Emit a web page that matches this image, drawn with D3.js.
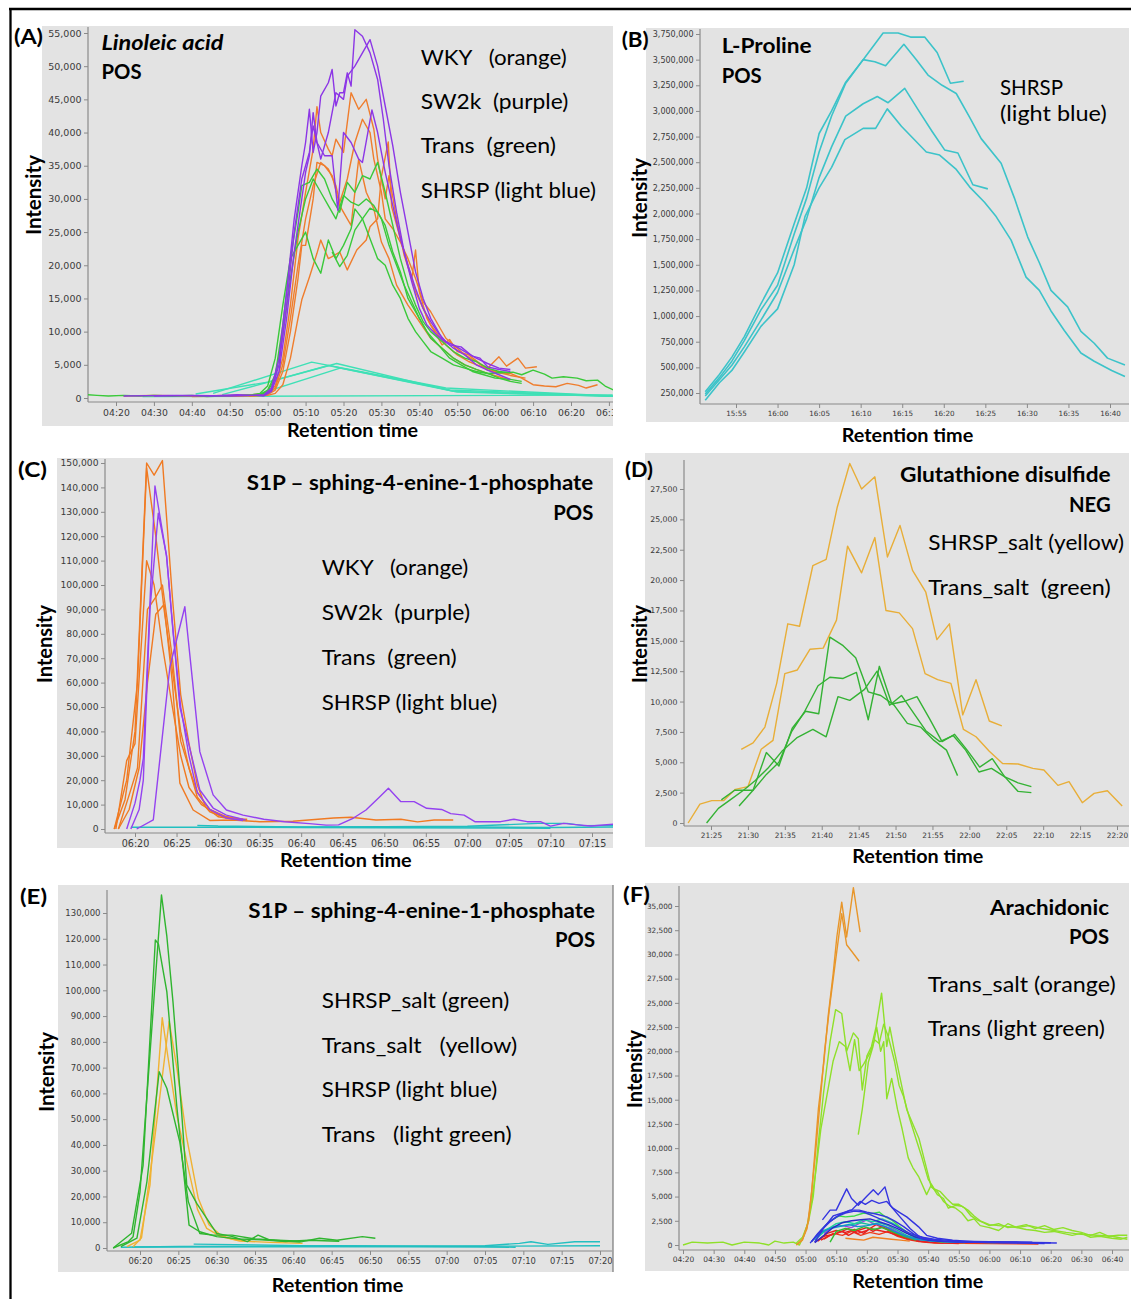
<!DOCTYPE html>
<html><head><meta charset="utf-8">
<script src="https://cdn.jsdelivr.net/npm/d3@7"></script>
<style>body{margin:0;background:#fff}svg{display:block}text{white-space:pre}</style>
</head><body>
<script>
// ================= DATA (time in seconds, intensity) =================
// ---- Panel A : Linoleic acid POS ----
const A_xTicks = [260,270,280,290,300,310,320,330,340,350,360,370,380,390];
const A_yTicks = [0,5000,10000,15000,20000,25000,30000,35000,40000,45000,50000,55000];
const A_WKY1 = [[262,300],[270,400],[280,300],[290,400],[296,500],[300,700],[302,1800],[304,6000],[306,14000],[308,24000],[310,31000],[312,37500],[313,43900],[314,40000],[316,37500],[317,36500],[318,39000],[320,37000],[322,46000],[324,43500],[326,45000],[328,40500],[329,36000],[331,30000],[332,33500],[334,27000],[336,21500],[338,18000],[339,22300],[340,16000],[342,12000],[344,10000],[346,8000],[348,8800],[350,7000],[353,6500],[356,5200],[358,4500],[361,6200],[363,4800],[366,6000],[368,4500],[371,4700]];
const A_WKY2 = [[280,200],[290,300],[298,400],[300,600],[302,1500],[304,5000],[306,12000],[308,20000],[310,27000],[312,32000],[314,35500],[316,34500],[318,32000],[319,29500],[321,33000],[323,38500],[325,42000],[327,40000],[328,36000],[330,31000],[331,27000],[333,25500],[335,23500],[337,21000],[339,18000],[341,14500],[343,13000],[345,11000],[347,9000],[349,8000],[352,6500],[355,5500],[358,4200],[361,3800],[364,3700],[367,3000],[370,2000],[373,1800],[376,1700],[379,2200],[382,1900],[384,1500],[387,2000]];
const A_WKY3 = [[290,300],[298,400],[300,500],[302,1200],[304,4000],[306,10000],[308,18000],[309,23000],[310,23000],[312,30000],[313,35500],[315,35000],[317,33500],[319,29000],[321,27000],[322,26000],[324,36000],[326,31000],[328,28500],[330,23500],[332,21000],[334,17000],[337,14000],[340,11500],[343,9000],[346,7500],[349,6000],[352,5000],[355,4300],[358,3700],[361,3200],[364,2700]];
const A_WKY4 = [[295,300],[300,400],[302,700],[304,2000],[306,6000],[308,12000],[309,14800],[311,18200],[313,21800],[314,23800],[316,21000],[317,21300],[319,22000],[321,19300],[323.5,22300],[326,23800],[327,25800],[329,27000],[330,33400],[331.8,38600],[332.7,28800],[335,24000],[337,20000],[339,16000],[341,13500],[343,11000],[345,9500],[347,8000],[350,6500],[353,5500],[356,4800],[360,4000],[364,3400],[368,3000]];
const A_SW2k1 = [[270,300],[280,400],[290,300],[296,400],[299,500],[301,1500],[303,6000],[305,16000],[307,27000],[309,35000],[310,38500],[311,43500],[312,37000],[313,40000],[314,45500],[316,47500],[317,49500],[318,44000],[319,46000],[320,46000],[321,49000],[322,47000],[323,55500],[325,54500],[327,52000],[329,48000],[330.5,42000],[332,35000],[334,28000],[336,22000],[338,17500],[340,13500],[342,11000],[344,9800],[346,8800],[348,8000],[351,7700],[354,6300],[356,6000],[358,4700],[361,4300],[364,4000]];
const A_SW2k2 = [[299,400],[301,1200],[303,5000],[305,14000],[307,25000],[309,33000],[311,37000],[312,41000],[314,36000],[316,40000],[318,46000],[320,45000],[321,48500],[323,50000],[325,52000],[327,54000],[329,50000],[331,44000],[333,38000],[335,31000],[337,25000],[339,19000],[341,15000],[343,12000],[346,9000],[349,7500],[352,6500],[355,5000],[358,4200],[361,3500],[364,2800]];
const A_SW2k3 = [[262,300],[275,400],[285,300],[292,500],[297,400],[299,300],[301,1000],[303,4000],[305,12000],[307,22000],[309,30000],[310,34000],[311,36500],[312,43000],[313,38500],[315,36500],[317,36500],[318.5,28300],[320,40000],[322,38500],[324,36000],[325,35500],[327.5,43400],[329,40000],[331,34000],[333,29000],[335,24000],[337,20000],[339,16500],[341,13500],[343,11500],[345,9800],[347,8500],[349,8000],[352,7000],[355,6000],[358,5200],[361,4500],[364,4300]];
const A_Trans1 = [[298,500],[300,1200],[302,3500],[304,11000],[306,21000],[308,28000],[309,32000],[311,32500],[313,34500],[315,33000],[317,30000],[319,28000],[321,32500],[323,31000],[325,33500],[327,33000],[329,35500],[331,31000],[333,26000],[335,21000],[337,17000],[339,14000],[341,11500],[343,10000],[346,8500],[349,7000],[352,6000],[355,5500],[358,4500],[361,4000],[364,3800]];
const A_Trans2 = [[298,400],[300,1000],[302,3000],[304,9500],[306,18000],[308,25000],[310,30000],[312,33000],[314,31000],[316,29000],[318,27000],[320,30500],[322,29500],[324,29000],[326,30000],[328,29000],[330,27000],[332,23000],[334,20000],[336,17000],[338,14500],[340,12000],[342,10000],[345,8000],[348,6000],[351,5000],[354,4000],[357,3500],[360,3000],[364,2800],[367,2500]];
const A_Trans3 = [[252,500],[255,400],[258,300],[262,400],[266,300],[270,400],[275,300],[280,400],[284,200],[288,300],[292,400],[296,500],[298,700],[300,1800],[302,6000],[304,14000],[306,21000],[308,23000],[310,25000],[312,21000],[314,18800],[316,23800],[318,21000],[320,23000],[322,25500],[323,28500],[325,27000],[327,24000],[329,21000],[331,20000],[333,17000],[335,15000],[337,12000],[339,10000],[341,8500],[343,7000],[346,6000],[349,5000],[352,4500],[355,4000],[358,3700],[361,3800],[364.7,3900],[367,3500],[370,4200],[373,3600],[375,3000],[378,3200],[381.6,3000],[384,2600],[387,2700],[389,1800],[392,1000]];
const A_Trans4 = [[317,22000],[319,19800],[321,21500],[323,25300],[325,27000],[327,28600],[329,28000],[331,26000],[333,22000],[335,19000],[337,15000],[339,13000],[341,11000],[343,9000],[346,7500],[349,6000],[352,5000],[355,4300],[358,3700],[361,3000],[364,2500],[367,2200]];
const A_SHRSP1 = [[285.6,700],[311.6,5400],[347,1500],[391,300]];
const A_SHRSP2 = [[288,500],[318.2,5200],[349,1000],[391,250]];
const A_SHRSP3 = [[296,300],[319.1,4500],[350,900],[391,250]];
const A_SHRSP4 = [[281,600],[300,2400],[316,4900],[348,1200],[391,300]];
const A_SHRSP5 = [[267,200],[391,450]];

// ---- Panel B : L-Proline POS ----
const B_xTicks = [955,960,965,970,975,980,985,990,995,1000];
const B_yTicks = [250000,500000,750000,1000000,1250000,1500000,1750000,2000000,2250000,2500000,2750000,3000000,3250000,3500000,3750000];
const B_SHRSP1 = [[951.3,263000],[953,430000],[954.5,600000],[956,800000],[958,1120000],[960,1420000],[962,1900000],[963.5,2250000],[965,2780000],[966.5,3000000],[968.2,3280000],[970.3,3500000],[972.7,3760000],[974.5,3760000],[976,3720000],[977.7,3720000],[979.2,3570000],[980.8,3270000],[982.4,3290000]];
const B_SHRSP2 = [[951.3,240000],[953,400000],[954.5,560000],[956,760000],[958,1060000],[960,1300000],[962,1800000],[963.5,2150000],[965,2600000],[966.5,2950000],[968.2,3270000],[970.3,3500000],[971.7,3480000],[973,3440000],[975.2,3650000],[976.7,3500000],[978.1,3350000],[979.8,3250000],[981.5,3170000],[983.1,2940000],[984.5,2730000],[986.9,2490000],[988.5,2150000],[990.1,1770000],[991.5,1520000],[992.9,1250000],[994.9,1090000],[996.5,850000],[998.1,735000],[999.7,590000],[1001.8,523000]];
const B_SHRSP3 = [[951.3,220000],[953,380000],[954.5,520000],[956,700000],[958,960000],[960,1230000],[962,1650000],[963.5,1950000],[965,2350000],[966.5,2650000],[968.2,2950000],[970.3,3070000],[972,3140000],[973.3,3080000],[975.3,3220000],[977,3000000],[978.6,2800000],[980.1,2620000],[981.7,2590000],[983.5,2280000],[985.3,2240000]];
const B_SHRSP4 = [[951.3,180000],[953,350000],[954.5,470000],[956,650000],[958,900000],[960,1070000],[962,1500000],[963.3,1970000],[965,2250000],[966.5,2450000],[968.1,2720000],[970.3,2830000],[971.8,2830000],[973.2,3020000],[974.9,2850000],[977.9,2600000],[979.5,2570000],[981.5,2430000],[983.1,2260000],[984.9,2110000],[986.3,1970000],[988.1,1740000],[989.9,1380000],[991.5,1250000],[992.9,1050000],[994.5,860000],[996.5,640000],[998.1,560000],[1000.2,470000],[1001.8,410000]];

// ---- Panel C : S1P POS ----
const C_xTicks = [380,385,390,395,400,405,410,415,420,425,430,435];
const C_yTicks = [0,10000,20000,30000,40000,50000,60000,70000,80000,90000,100000,110000,120000,130000,140000,150000];
const C_WKY1 = [[377.5,0],[378.8,12000],[380,40000],[381.4,150000],[382.3,145000],[383.3,151000],[384.5,95000],[385.5,55000],[386.5,35000],[387.5,18000],[388.5,9000],[390,5000],[392,4000],[393.5,3500]];
const C_WKY2 = [[377.5,0],[379,20000],[380.3,60000],[381.4,148000],[382.5,120000],[383.5,90000],[384.5,65000],[385.5,40000],[386.5,25000],[387.5,15000],[389,8000],[391,5000],[393,4000]];
const C_WKY3 = [[377.7,0],[379,28000],[380,35000],[381.4,110000],[382.3,100000],[383.3,75000],[384.5,50000],[385.5,30000],[386.5,17000],[388,10000],[390,6000],[392,4000],[393.5,4000]];
const C_WKY4 = [[378,0],[379.3,14000],[380.3,25000],[381.5,90000],[382.5,95000],[383.3,100000],[384.5,70000],[385.5,36000],[386.5,25000],[387.5,13000],[389,7000],[391,4500]];
const C_WKY5 = [[378,0],[379.3,8000],[380.5,25000],[381.5,60000],[382.5,88000],[383.5,92000],[384.5,60000],[385.4,18800],[387,7800],[389,3500],[391.8,3700],[395,3000],[399,3200],[403.9,4500],[406,4800],[409,3700],[412,4000],[414,2900],[416,3700],[418.3,3700]];
const C_SW2k1 = [[379,0],[380,10600],[380.6,20000],[381,29000],[382.4,140600],[383.8,111600],[385.4,50000],[387.8,16000],[389.4,8600],[391,5700],[393.3,3700]];
const C_SW2k2 = [[379.5,0],[380.5,8000],[381,20000],[381.8,90000],[382.8,129400],[383.8,112000],[384.6,80000],[385.5,50000],[386.5,30000],[387.5,15000],[389,8000],[391,4500],[393,3500]];
const C_SW2k3 = [[380.2,0],[382.2,3700],[384.2,66500],[386,91100],[387.8,31700],[389.4,14000],[391,7800],[393,5700],[395.5,4000],[398,3000],[401,2200],[403,1600],[404.5,1700],[406.3,4500],[407.8,7800],[409.4,13000],[410.5,16700],[412,11200],[413.6,11200],[415.1,8500],[416.9,8000],[418,6300],[419.6,5700],[420.9,3000],[424,3000],[425.6,4000],[427.2,3000],[428.8,3000],[430,1200],[431.6,2300],[433.3,1700],[434.9,1200],[437.7,2000]];
const C_SHRSP1 = [[379.5,700],[390,700],[400,600],[410,700],[420,800],[430,600],[437.7,800]];
const C_SHRSP2 = [[387.5,1500],[390,1200],[400,800],[410,900],[420,1100],[428.5,2300],[432,2300],[434,1400],[437.7,1500]];
const C_SHRSP3 = [[390,900],[410,500],[430,300]];

// ---- Panel D : Glutathione disulfide NEG ----
const D_xTicks = [1285,1290,1295,1300,1305,1310,1315,1320,1325,1330,1335,1340];
const D_yTicks = [0,2500,5000,7500,10000,12500,15000,17500,20000,22500,25000,27500];
const D_SHRSPsalt1 = [[1289.1,6070],[1290.7,6600],[1292.3,7900],[1293.9,11500],[1295.4,16400],[1297,16200],[1298.8,21200],[1300.6,21700],[1302.1,26000],[1303.8,29600],[1305.4,27500],[1307.2,28500],[1308.9,21900],[1310.6,24500],[1312.3,20800],[1314.1,19000],[1315.6,15100],[1317.3,16400],[1319.1,8900],[1320.9,11800],[1322.7,8400],[1324.4,8000]];
const D_SHRSPsalt2 = [[1281.9,0],[1283.5,1560],[1285.1,1840],[1286.7,1840],[1288.3,2770],[1290,2990],[1291.8,6070],[1293.4,6800],[1295,12300],[1296.7,12600],[1298.4,14300],[1300.2,14400],[1302,16700],[1303.5,22800],[1305.4,20600],[1307.2,23500],[1308.7,17500],[1310.5,17300],[1312.3,16000],[1314,12300],[1315.7,11800],[1317.5,11500],[1319.2,7700],[1320.9,7100],[1322.7,5900],[1324.5,4900],[1326.6,4860],[1328.6,4500],[1330.1,4360],[1332,3100],[1333.5,3400],[1335.3,1670],[1336.9,2440],[1338.7,2660],[1340.7,1400]];
const D_TransSalt1 = [[1286.4,1900],[1288.2,2700],[1290.7,2700],[1292.5,5800],[1294.2,4700],[1296,7800],[1297.8,9200],[1299.6,9000],[1301.1,15300],[1302.9,14600],[1304.6,13600],[1306.3,10800],[1308,10500],[1309.8,9700],[1311.6,8200],[1313.4,7900],[1315.2,6800],[1316.9,6000],[1318.4,3900]];
const D_TransSalt2 = [[1284.4,0],[1286,1200],[1287.6,1900],[1289.4,2700],[1291,3500],[1292.7,4500],[1294.6,5900],[1296.6,7000],[1298.8,7700],[1300.6,7100],[1302.2,10400],[1303.8,10100],[1305.8,11000],[1307.5,12500],[1309.2,9700],[1310.8,10500],[1312.5,9000],[1314.1,7600],[1316,6700],[1317.8,7200],[1319.5,6000],[1321.3,4200],[1323,4500],[1324.8,3800],[1326.6,2600],[1328.4,2500]];
const D_TransSalt3 = [[1288.8,1400],[1290.7,2700],[1292.5,4000],[1294.2,5000],[1295.9,7500],[1297.7,9200],[1299.5,11300],[1301.1,12000],[1302.9,11900],[1304.7,12400],[1306.3,8500],[1307.8,12900],[1309.5,9800],[1311.1,10000],[1312.9,10400],[1314.6,8600],[1316.3,6700],[1318,7300],[1319.7,6000],[1321.4,4600],[1323.1,5300],[1324.8,3800],[1326.6,3300],[1328.4,3000]];

// ---- Panel E : S1P POS ----
const E_xTicks = [380,385,390,395,400,405,410,415,420,425,430,435,440];
const E_yTicks = [0,10000,20000,30000,40000,50000,60000,70000,80000,90000,100000,110000,120000,130000];
const E_SHRSPsalt1 = [[376.5,0],[378.5,2500],[379.1,4400],[380,21800],[382.8,137000],[383.5,121000],[384.3,95600],[385.4,54000],[386.1,24400],[387.4,17300],[388.7,11500],[390,5700],[392.1,4400],[394,2500],[395.4,5000],[396.9,3100],[400.8,2300],[403.4,3800],[405.7,3000],[409,4400],[410.7,3800]];
const E_SHRSPsalt2 = [[376.5,0],[378.9,5700],[380.4,32000],[382,119500],[382.4,118000],[383.5,99500],[384.8,55000],[386.4,8900],[387.8,6300],[390,4400],[393,3500],[396,3200],[399,2500],[402,3000],[406,2600]];
const E_SHRSPsalt3 = [[377.5,500],[379.6,3800],[380.9,25700],[382.5,68400],[383.5,62000],[385.2,41000],[386.3,18000],[387.8,5600],[389.5,5000],[392,5000],[395,3500],[398,3000],[401,2600]];
const E_TransSalt1 = [[378.3,500],[380,3100],[381.3,24400],[382.9,89400],[383.6,75000],[384.8,51600],[386.1,33500],[387.5,15000],[388.7,7600],[390.5,4500],[393,2700],[397,2200],[401.2,1800]];
const E_TransSalt2 = [[379.1,500],[380.2,4000],[381.7,37400],[383.8,88000],[384.8,70000],[386.1,42600],[387.6,19300],[389,9000],[390.5,5000],[392,3500],[393.5,2800]];
const E_SHRSP1 = [[377.5,300],[385,600],[395,700],[405,900],[415,800],[425,900],[429.5,1800],[431,2400],[433.2,1400],[436.7,2400],[440,2400]];
const E_SHRSP2 = [[387,1500],[395,1200],[405,700],[415,600],[425,400],[429,300]];
const E_SHRSP3 = [[379,400],[400,500],[420,600],[440,900]];

// ---- Panel F : Arachidonic POS ----
const F_xTicks = [260,270,280,290,300,310,320,330,340,350,360,370,380,390,400];
const F_yTicks = [0,2500,5000,7500,10000,12500,15000,17500,20000,22500,25000,27500,30000,32500,35000];
const F_TransSalt1 = [[297,0],[299,600],[300.5,1700],[302,5500],[304.2,14100],[306,19000],[307.4,23700],[309,28000],[310.2,31800],[311.8,35400],[313.4,31800],[315.6,36900],[317.8,32300]];
const F_TransSalt2 = [[297,0],[299,500],[301,2500],[303.1,9000],[304.8,15000],[306.3,20300],[308,25000],[309.6,28900],[311.8,34200],[313.4,31000],[315.1,30300],[317.5,29300]];
const F_Trans1 = [[260,0],[263,300],[268,200],[273,300],[276,0],[280,300],[285,200],[288,0],[290,400],[293,200],[296,300],[298,0],[299.5,1000],[301,2500],[302.5,5000],[304.2,10700],[305.9,15800],[308,21000],[309.8,24300],[311.8,23900],[313.4,20000],[315.6,21900],[317.2,21300],[318.5,16000],[320,19500],[321.5,20500],[323,22500],[324.8,26000],[326.5,20500],[327.5,22500],[329,20000],[331,17000],[333,14000],[335,12500],[337,11000],[339,8500],[341,6000],[343,5500],[345,4500],[347,4000],[349,3800],[351,3300],[353,2500],[355,2700],[357,2000],[360,1800],[363,1500],[366,2200],[369,1800],[372,1600],[375,1500],[378,1300],[381,1400],[384,1200],[387,1000],[390,1200],[393,800],[396,900],[400,700],[403,600],[405,800]];
const F_Trans2 = [[297,200],[299,800],[300.5,2000],[302,4500],[303.5,8000],[305,12000],[307,15500],[309,19000],[311,21000],[313,20500],[314.5,18000],[316,21200],[317.5,18000],[319,18700],[321,19800],[322.5,21200],[324,20800],[325.5,22800],[327,21500],[329,19000],[330.5,16500],[332,15300],[334,13000],[336,11000],[338,9000],[340,6800],[342,5800],[344,5500],[346,4800],[348,4200],[350,4200],[352,3800],[354,3000],[356,2600],[358,2300],[360,2000],[363,2200],[366,1800],[369,1900],[372,2100],[375,1700],[378,2000],[381,1600],[384,1800],[387,1500],[390,1300],[393,1000],[396,1300],[399,900],[402,1000],[405,1000]];
const F_Trans3 = [[317.2,11400],[318.5,14000],[320.5,18900],[322,20500],[323.2,22500],[324.5,20000],[325.5,21000],[326.5,15100],[328.1,17200],[330,14000],[331.5,12000],[333.5,9000],[335,8000],[337,7000],[339.5,5200],[341,6200],[343,5200],[345,4800],[346.6,3800],[349,4100],[351,4000],[353,3600],[355,3000],[357,2500],[360,2100],[363,2000],[366,1900],[369,1800],[373,2000],[377,1700],[381,1500],[385,1300],[390,1100],[395,1000],[400,900],[405,600]];
const F_other1 = [[305.5,2600],[308,3600],[310,3600],[313.4,5800],[315,4800],[317.2,4100],[319.9,5000],[322.1,5700],[323.7,5200],[325.9,6000],[327.6,4100],[330.8,2900],[334.1,1700],[337,900],[340,600],[345,400],[350,300],[360,250],[370,200],[378,150]];
const F_other2 = [[303,300],[306,1800],[309,3000],[312,3300],[315,3600],[317.8,4500],[319.5,4200],[321.6,4600],[324,4300],[326.5,4500],[328.5,3800],[331,3300],[333,2900],[336.8,1900],[339.5,1000],[343,700],[348,500],[355,350],[365,300],[380,250]];
const F_other3 = [[302,350],[305,1500],[308,2400],[311,3100],[314.5,3600],[317.5,3600],[320,3400],[323,3200],[326.5,2900],[329,2500],[332,1900],[335,1200],[337.4,700],[341,500],[346,400],[355,300],[370,250],[382,200]];
const F_other4 = [[301.5,200],[304,1200],[307,2200],[310,2900],[313,3300],[316,3500],[319,3400],[322,3000],[325,2600],[328,2200],[331,1700],[334,1200],[338,800],[342,600],[350,400],[360,350],[374,300]];
const F_other5 = [[305,1500],[308,2500],[311,3000],[313,2900],[316,3000],[319,3300],[321,3200],[324,3400],[326,2900],[328,2600],[331,1800],[334,1100],[338,600],[345,300]];
const F_other6 = [[303,500],[306,1500],[309,1900],[312,2000],[315,2100],[318,2300],[321,2100],[324,2300],[327,2000],[330,1500],[333,1000],[337,600],[342,400],[350,300],[362,250]];
const F_other7 = [[306,1200],[309,1900],[312,2000],[315,1800],[318,2300],[320,2600],[322,2200],[325,2000],[328,1700],[331,1200],[334,800],[338,500]];
const F_other8 = [[304,400],[307,1200],[310,1500],[313,1300],[316,1600],[319,1200],[321,1700],[324,1500],[327,1300],[330,1000],[333,700],[337,400],[342,250],[350,150]];
const F_other9 = [[303,300],[306,900],[309,1100],[312,1400],[314,1000],[317,1500],[320,1800],[322,1400],[325,1900],[328,1500],[331,1100],[334,600],[338,350],[345,200]];
const F_other10 = [[305,500],[308,1000],[311,1300],[314,1700],[317,1200],[320,1500],[323,2100],[326,1700],[329,1200],[332,800],[336,500],[340,300]];
const F_other11 = [[306,600],[309,1200],[312,1000],[315,1400],[318,1000],[321,1300],[324,1100],[327,1400],[330,900],[333,600],[337,350],[342,200],[360,150],[376,100]];
const F_other12 = [[313,700],[316,600],[319,500],[322,800],[325,700],[328,600],[331,500],[334,400]];
const F_other13 = [[304,800],[307,1600],[310,2200],[313,2400],[316,2200],[319,2600],[322,2400],[325,2700],[328,2300],[331,1800],[334,1100],[338,600],[343,350],[352,250]];
const F_other14 = [[308,300],[310,1400],[313,1700],[316,1500],[319,1900],[322,1600],[325,1800],[328,1400],[332,900],[336,500]];
const F_other15 = [[302,400],[305,1300],[308,1700],[311,1900],[314,2100],[317,1900],[320,2000],[323,2200],[326,1900],[329,1400],[332,1000],[336,600],[341,400],[350,300],[365,250]];
const F_other16 = [[303,250],[306,1000],[309,1800],[312,2300],[315,2500],[318,2600],[321,2700],[324,2400],[327,2100],[330,1700],[333,1200],[336,800],[340,500],[345,350],[355,300],[370,250],[380,230]];

// ================= STYLES / LAYOUT =================
const COL = {
  orangeA:"#ef7d2d", purple:"#8c36e6", greenA:"#3ac93a", tealA:"#3fe0b6",
  tealB:"#3cc3c9", orangeC:"#f07a22", purpleC:"#9442f0", tealC:"#22bfc0",
  yellow:"#e8ae38", greenD:"#34b234", greenE:"#2fb52f", yellowE:"#f0b232",
  orangeF:"#e8962a", lgreen:"#8fe02a", blue:"#3434e0", blue2:"#2a2ac8", red:"#e82020",
  red2:"#f03a1a", orange2:"#f08020", green3:"#3ddc4c", teal3:"#1abc9c", purple3:"#a040e0",
  cyan3:"#20d0a0", green4:"#30c030", sky:"#1090d0"
};
const mmss = d => String(Math.floor(d/60)).padStart(2,"0")+":"+String(Math.round(d%60)).padStart(2,"0");
const FONT = "Lato, 'Open Sans', sans-serif";
const TICKFONT = "'DejaVu Sans', Verdana, sans-serif";

const panels = [
  {id:"A", bg:[42,26,613,426], left:88, top:27, right:613, axisY:402,
   xRef:[[260,116],[380,571]], yRef:[[0,398],[55000,33]], xTicks:A_xTicks, yTicks:A_yTicks, xFont:9.3, yFont:9.5,
   series:[[A_SHRSP5,"tealA"],[A_SHRSP1,"tealA"],[A_SHRSP2,"tealA"],[A_SHRSP3,"tealA"],[A_SHRSP4,"tealA"],
           [A_WKY4,"orangeA"],[A_WKY3,"orangeA"],[A_WKY2,"orangeA"],[A_WKY1,"orangeA"],
           [A_Trans3,"greenA"],[A_Trans4,"greenA"],[A_Trans2,"greenA"],[A_Trans1,"greenA"],
           [A_SW2k3,"purple"],[A_SW2k2,"purple"],[A_SW2k1,"purple"]]},
  {id:"B", bg:[646,28,1129,422], left:700, top:29, right:1129, axisY:404,
   xRef:[[955,736],[1000,1110]], yRef:[[250000,393],[3750000,34]], xTicks:B_xTicks, yTicks:B_yTicks, xFont:7.2, yFont:8,
   series:[[B_SHRSP1,"tealB"],[B_SHRSP2,"tealB"],[B_SHRSP3,"tealB"],[B_SHRSP4,"tealB"]]},
  {id:"C", bg:[57,458,613,848], left:105, top:459, right:613, axisY:833,
   xRef:[[380,135],[435,592]], yRef:[[0,829],[150000,463]], xTicks:C_xTicks, yTicks:C_yTicks, xFont:9.6, yFont:9.2,
   series:[[C_SHRSP1,"tealC"],[C_SHRSP2,"tealC"],[C_SHRSP3,"tealC"],
           [C_WKY5,"orangeC"],[C_WKY4,"orangeC"],[C_WKY3,"orangeC"],[C_WKY2,"orangeC"],[C_WKY1,"orangeC"],
           [C_SW2k3,"purpleC"],[C_SW2k2,"purpleC"],[C_SW2k1,"purpleC"]]},
  {id:"D", bg:[645,453,1129,847], left:684, top:460, right:1129, axisY:826,
   xRef:[[1285,711],[1340,1117]], yRef:[[0,823],[27500,489]], xTicks:D_xTicks, yTicks:D_yTicks, xFont:7.4, yFont:7.8,
   series:[[D_SHRSPsalt2,"yellow"],[D_SHRSPsalt1,"yellow"],[D_TransSalt1,"greenD"],[D_TransSalt2,"greenD"],[D_TransSalt3,"greenD"]]},
  {id:"E", bg:[58,885,613,1272], left:107, top:890, right:612, axisY:1251,
   xRef:[[380,140],[440,600]], yRef:[[0,1248],[130000,913]], xTicks:E_xTicks, yTicks:E_yTicks, xFont:8.4, yFont:8.5,
   series:[[E_SHRSP3,"tealC"],[E_SHRSP2,"tealC"],[E_SHRSP1,"tealC"],
           [E_TransSalt2,"yellowE"],[E_TransSalt1,"yellowE"],
           [E_SHRSPsalt3,"greenE"],[E_SHRSPsalt2,"greenE"],[E_SHRSPsalt1,"greenE"]]},
  {id:"F", bg:[645,883,1129,1271], left:679, top:886, right:1129, axisY:1250,
   xRef:[[260,683],[400,1112]], yRef:[[0,1245],[35000,906]], xTicks:F_xTicks, yTicks:F_yTicks, xFont:7.5, yFont:7.3,
   series:[[F_Trans1,"lgreen"],[F_Trans2,"lgreen"],[F_Trans3,"lgreen"],
           [F_other12,"orange2"],[F_other11,"red2"],[F_other8,"red"],[F_other9,"red"],[F_other10,"red"],
           [F_other14,"green4"],[F_other7,"purple3"],[F_other6,"teal3"],[F_other13,"cyan3"],[F_other5,"green3"],
           [F_other15,"sky"],[F_other16,"blue2"],[F_other4,"blue"],[F_other3,"blue"],[F_other2,"blue"],[F_other1,"blue"],
           [F_TransSalt2,"orangeF"],[F_TransSalt1,"orangeF"]]}
];

const texts = [
  // A
  {t:"(A)",x:14,y:44,s:21,w:"bold",len:29},
  {t:"Linoleic acid",x:101.5,y:50,s:21.5,w:"bold",st:"italic",len:122},
  {t:"POS",x:101.5,y:78.5,s:21.5,w:"bold",len:40},
  {t:"WKY   (orange)",x:420.7,y:65,s:21.5,len:146},
  {t:"SW2k  (purple)",x:420.7,y:108.5,s:21.5,len:147.6},
  {t:"Trans  (green)",x:420.7,y:153,s:21.5,len:135.3},
  {t:"SHRSP (light blue)",x:420.7,y:198,s:21.5,len:175.3},
  {t:"Intensity",x:40.5,y:195,s:20,w:"bold",len:80,rot:true},
  {t:"Retention time",x:287,y:437,s:19.5,w:"bold",len:131},
  // B
  {t:"(B)",x:621.7,y:46.5,s:21,w:"bold",len:27},
  {t:"L-Proline",x:721.7,y:53.3,s:21.5,w:"bold",len:90},
  {t:"POS",x:721.7,y:82.7,s:21.5,w:"bold",len:40},
  {t:"SHRSP",x:1000,y:95,s:21.5,len:63},
  {t:"(light blue)",x:1000,y:120.5,s:21.5,len:106.7},
  {t:"Intensity",x:646.5,y:198,s:20,w:"bold",len:80,rot:true},
  {t:"Retention time",x:841.7,y:441.5,s:19.5,w:"bold",len:131.6},
  // C
  {t:"(C)",x:18,y:476.7,s:21,w:"bold",len:29},
  {t:"S1P \u2013 sphing-4-enine-1-phosphate",x:593.3,y:490,s:21.5,w:"bold",len:346.6,end:true},
  {t:"POS",x:593.3,y:520,s:21.5,w:"bold",len:40,end:true},
  {t:"WKY   (orange)",x:321.7,y:575,s:21.5,len:146.6},
  {t:"SW2k  (purple)",x:321.7,y:620,s:21.5,len:148.3},
  {t:"Trans  (green)",x:321.7,y:665,s:21.5,len:135},
  {t:"SHRSP (light blue)",x:321.7,y:710,s:21.5,len:175.6},
  {t:"Intensity",x:51.5,y:644,s:20,w:"bold",len:78,rot:true},
  {t:"Retention time",x:280,y:866.7,s:19.5,w:"bold",len:131.7},
  // D
  {t:"(D)",x:625,y:476.7,s:21,w:"bold",len:28},
  {t:"Glutathione disulfide",x:1110.7,y:481.7,s:21.5,w:"bold",len:210.7,end:true},
  {t:"NEG",x:1110.7,y:511.7,s:21.5,w:"bold",len:41.7,end:true},
  {t:"SHRSP_salt (yellow)",x:928.3,y:550,s:21.5,len:195.7},
  {t:"Trans_salt  (green)",x:928.3,y:595,s:21.5,len:182.4},
  {t:"Intensity",x:646.5,y:644,s:20,w:"bold",len:78,rot:true},
  {t:"Retention time",x:852.3,y:863.3,s:19.5,w:"bold",len:131},
  // E
  {t:"(E)",x:20,y:904.3,s:21,w:"bold",len:27},
  {t:"S1P \u2013 sphing-4-enine-1-phosphate",x:595,y:918.3,s:21.5,w:"bold",len:346.7,end:true},
  {t:"POS",x:595,y:946.7,s:21.5,w:"bold",len:40,end:true},
  {t:"SHRSP_salt (green)",x:321.7,y:1007.7,s:21.5,len:187.6},
  {t:"Trans_salt   (yellow)",x:321.7,y:1053.3,s:21.5,len:195.6},
  {t:"SHRSP (light blue)",x:321.7,y:1096.7,s:21.5,len:175.6},
  {t:"Trans   (light green)",x:321.7,y:1141.7,s:21.5,len:190},
  {t:"Intensity",x:53.5,y:1072,s:20,w:"bold",len:80,rot:true},
  {t:"Retention time",x:271.7,y:1291.7,s:19.5,w:"bold",len:131.6},
  // F
  {t:"(F)",x:623,y:901.7,s:21,w:"bold",len:27},
  {t:"Arachidonic",x:1109,y:915,s:21.5,w:"bold",len:119,end:true},
  {t:"POS",x:1109,y:944.3,s:21.5,w:"bold",len:40,end:true},
  {t:"Trans_salt (orange)",x:927.7,y:991.7,s:21.5,len:188},
  {t:"Trans (light green)",x:927.7,y:1035.7,s:21.5,len:177.3},
  {t:"Intensity",x:641.5,y:1069,s:20,w:"bold",len:78,rot:true},
  {t:"Retention time",x:852.3,y:1288.3,s:19.5,w:"bold",len:131}
];

// ================= DRAW =================
const svg = d3.select("body").append("svg").attr("width",1131).attr("height",1299);
svg.append("rect").attr("width",1131).attr("height",1299).attr("fill","#fff");
const defs = svg.append("defs");

panels.forEach(p => {
  const g = svg.append("g");
  const [bx0,by0,bx1,by1] = p.bg;
  defs.append("clipPath").attr("id","bg"+p.id).append("rect").attr("x",bx0).attr("y",by0).attr("width",bx1-bx0).attr("height",by1-by0);
  defs.append("clipPath").attr("id","pl"+p.id).append("rect").attr("x",p.left).attr("y",p.top).attr("width",p.right-p.left).attr("height",p.axisY-p.top);
  g.append("rect").attr("x",bx0).attr("y",by0).attr("width",bx1-bx0).attr("height",by1-by0).attr("fill","#e3e3e3");
  const x = d3.scaleLinear().domain([p.xRef[0][0],p.xRef[1][0]]).range([p.xRef[0][1],p.xRef[1][1]]);
  const y = d3.scaleLinear().domain([p.yRef[0][0],p.yRef[1][0]]).range([p.yRef[0][1],p.yRef[1][1]]);
  const ag = g.append("g").attr("clip-path",`url(#bg${p.id})`);
  // axes
  const xa = ag.append("g").attr("transform",`translate(0,${p.axisY})`)
    .call(d3.axisBottom(x).tickValues(p.xTicks).tickFormat(mmss).tickSize(4).tickPadding(3).tickSizeOuter(0));
  const ya = ag.append("g").attr("transform",`translate(${p.left},0)`)
    .call(d3.axisLeft(y).tickValues(p.yTicks).tickFormat(d3.format(",")).tickSize(4).tickPadding(2.5).tickSizeOuter(0));
  [xa,ya].forEach(a=>{ a.select(".domain").remove(); a.selectAll("line").attr("stroke","#8a8a8a"); });
  xa.selectAll("text").attr("font-family",TICKFONT).attr("font-size",p.xFont).attr("fill","#3a3a3a");
  ya.selectAll("text").attr("font-family",TICKFONT).attr("font-size",p.yFont).attr("fill","#3a3a3a");
  ag.append("line").attr("x1",p.left).attr("x2",p.left).attr("y1",p.top).attr("y2",p.axisY).attr("stroke","#8a8a8a").attr("stroke-width",1.2);
  ag.append("line").attr("x1",p.left).attr("x2",p.right).attr("y1",p.axisY).attr("y2",p.axisY).attr("stroke","#8a8a8a").attr("stroke-width",1.2);
  // series
  const line = d3.line().x(d=>x(d[0])).y(d=>y(d[1]));
  const lg = g.append("g").attr("clip-path",`url(#pl${p.id})`);
  p.series.forEach(([data,c]) => {
    lg.append("path").attr("d",line(data)).attr("fill","none").attr("stroke",COL[c])
      .attr("stroke-width",p.id==="B"?1.6:1.4).attr("stroke-linejoin","round");
  });
  if (p.id==="E") g.append("line").attr("x1",613).attr("x2",613).attr("y1",885).attr("y2",1272).attr("stroke","#777").attr("stroke-width",1.2);
});

// texts
texts.forEach(o => {
  const t = svg.append("text").text(o.t).attr("x",o.x).attr("y",o.y)
    .attr("font-family",FONT).attr("font-size",o.s).attr("fill","#000")
    .attr("font-weight",o.w||"normal").attr("font-style",o.st||"normal")
    .attr("textLength",o.len).attr("lengthAdjust","spacingAndGlyphs");
  if (o.rot) t.attr("text-anchor","middle").attr("transform",`rotate(-90,${o.x},${o.y})`);
  else if (o.end) t.attr("text-anchor","end");
});

// outer frame
svg.append("line").attr("x1",9).attr("x2",1131).attr("y1",9).attr("y2",9).attr("stroke","#000").attr("stroke-width",2.3);
svg.append("line").attr("x1",10.5).attr("x2",10.5).attr("y1",8).attr("y2",1299).attr("stroke","#000").attr("stroke-width",2.3);
</script>
</body></html>
